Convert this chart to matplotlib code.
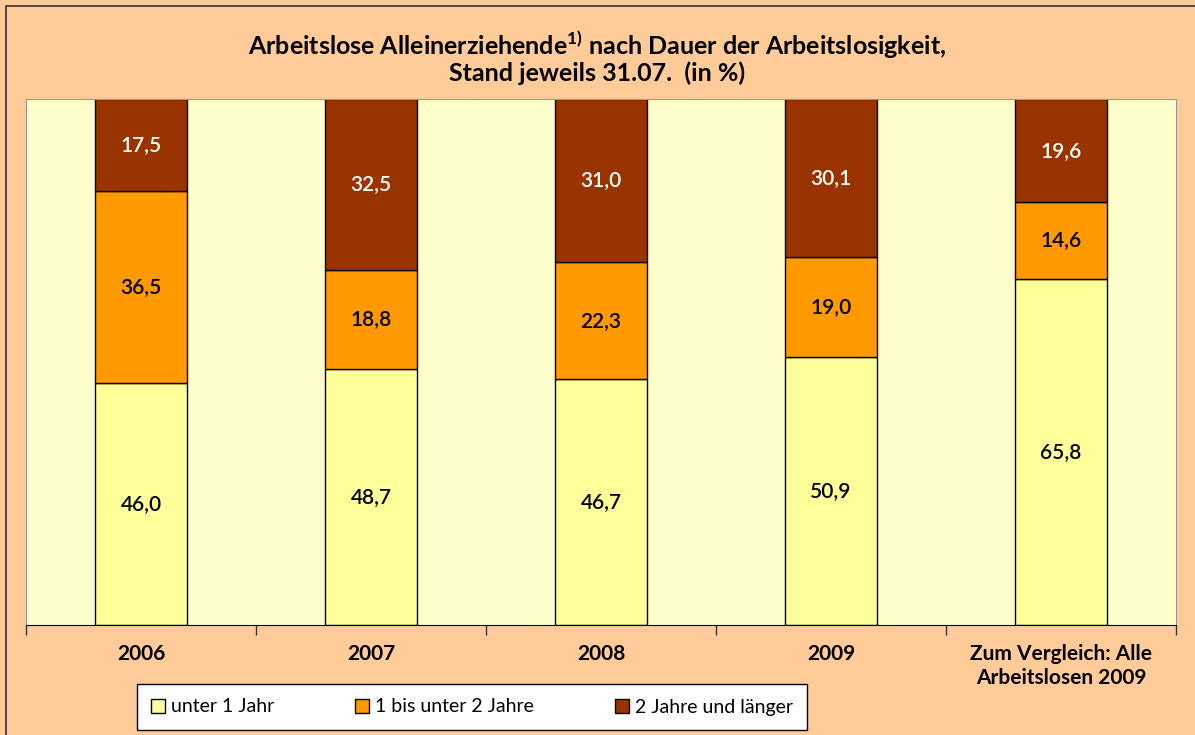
import numpy as np
import matplotlib
matplotlib.use('Agg')
import matplotlib.pyplot as plt
from matplotlib.patches import Rectangle

categories = ['2006', '2007', '2008', '2009', 'Zum Vergleich: Alle\nArbeitslosen 2009']
unter1 = [46.0, 48.7, 46.7, 50.9, 65.8]
bis2 = [36.5, 18.8, 22.3, 19.0, 14.6]
laenger = [17.5, 32.5, 31.0, 30.1, 19.6]
series_names = ['unter 1 Jahr', '1 bis unter 2 Jahre', '2 Jahre und länger']

plt.rcParams['font.family'] = ['Lato', 'DejaVu Sans']
plt.rcParams['mathtext.fontset'] = 'custom'
plt.rcParams['mathtext.bf'] = 'Lato:bold'

fig = plt.figure(figsize=(11.95, 7.35), dpi=100)
fig.patch.set_facecolor('#FFCC99')
fig.patches.append(Rectangle((6 / 1195, -0.1), 1.2, (735 - 6) / 735 + 0.1, transform=fig.transFigure,
                             fill=False, edgecolor='#333333', linewidth=1.2))

ax = fig.add_axes([26 / 1195, 1 - 625 / 735, 1150 / 1195, 526 / 735])
ax.set_facecolor('#FFFFCC')

x = np.arange(len(categories))
w = 0.404
colors = ['#FFFF99', '#FF9900', '#993300']
text_colors = ['black', 'black', 'white']
bottom = np.zeros(len(categories))
for vals, name, c, tc in zip([unter1, bis2, laenger], series_names, colors, text_colors):
    ax.bar(x, vals, w, bottom=bottom, color=c, edgecolor='black', linewidth=1, label=name, zorder=2)
    for xi, b, v in zip(x, bottom, vals):
        ax.text(xi, b + v / 2, f'{v:.1f}'.replace('.', ','), ha='center', va='center',
                color=tc, fontsize=15, fontweight='semibold')
    bottom += np.array(vals)

ax.set_xlim(-0.5, len(categories) - 0.5)
ax.set_ylim(0, 100)
ax.set_yticks([])
ax.set_xticks(np.arange(len(categories) + 1) - 0.5)
ax.set_xticklabels([])
ax.set_xticks(x, minor=True)
ax.set_xticklabels(categories, minor=True, fontsize=15, fontweight='bold')
ax.tick_params(axis='x', which='minor', length=0, pad=14)
ax.tick_params(axis='x', which='major', length=7, width=1, color='#333333')
for s in ['top', 'left', 'right']:
    ax.spines[s].set_color('#999999')
    ax.spines[s].set_linewidth(0.8)
ax.spines['bottom'].set_color('black')

fig.text(0.5, 1 - 45 / 735, r'Arbeitslose Alleinerziehende$^{\mathbf{1)}}$ nach Dauer der Arbeitslosigkeit,',
         ha='center', va='center', fontsize=18, fontweight='bold')
fig.text(0.5, 1 - 73 / 735, 'Stand jeweils 31.07.  (in %)', ha='center', va='center',
         fontsize=18, fontweight='bold')

leg = fig.legend(loc='center', bbox_to_anchor=(472 / 1195, 1 - 707 / 735), ncol=3, fontsize=14,
                 frameon=True, fancybox=False, edgecolor='black', framealpha=1,
                 handlelength=0.7, handleheight=0.7, handletextpad=0.3, columnspacing=4.2, borderpad=0.75,
                 borderaxespad=0)
leg.get_frame().set_linewidth(1)
leg.get_frame().set_facecolor('white')

fig.savefig('out.png', dpi=100, facecolor=fig.get_facecolor())
